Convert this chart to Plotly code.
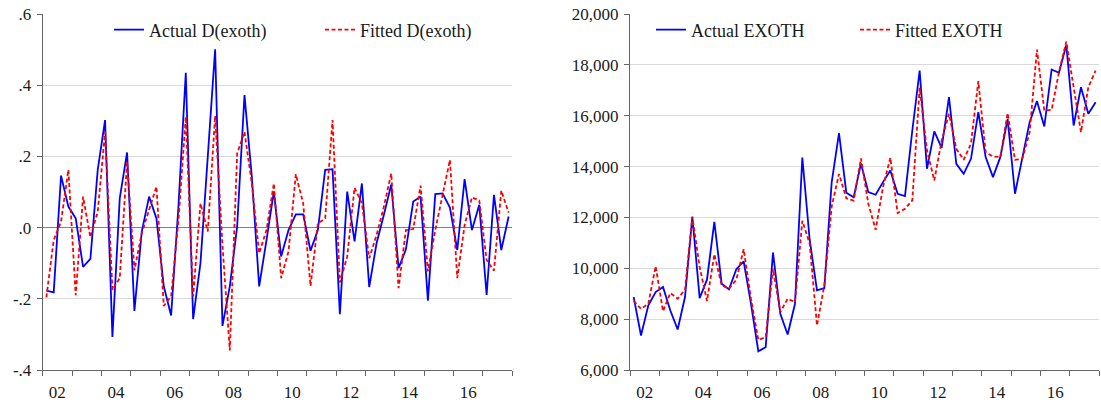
import plotly.graph_objects as go

# ---- data (quarterly, 2002Q1 - 2017Q4) ----
years = list(range(2002, 2018))
quarters = [1, 2, 3, 4]

actual_d = [-0.177, -0.182, 0.146, 0.059, 0.026, -0.110, -0.088, 0.162,
            0.302, -0.307, 0.082, 0.211, -0.234, -0.011, 0.087, 0.026,
            -0.165, -0.247, 0.060, 0.435, -0.257, -0.100, 0.200, 0.501,
            -0.276, -0.165, 0.003, 0.372, 0.143, -0.165, -0.035, 0.101,
            -0.081, -0.007, 0.037, 0.037, -0.065, -0.007, 0.162, 0.164,
            -0.243, 0.101, -0.039, 0.124, -0.167, -0.044, 0.036, 0.121,
            -0.114, -0.061, 0.073, 0.087, -0.205, 0.094, 0.096, 0.056,
            -0.063, 0.136, -0.007, 0.064, -0.189, 0.092, -0.063, 0.031]

fitted_d = [-0.196, -0.035, 0.017, 0.162, -0.190, 0.087, -0.027, 0.045,
            0.269, -0.175, -0.142, 0.185, -0.120, -0.016, 0.050, 0.115,
            -0.220, -0.193, 0.020, 0.311, -0.193, 0.068, -0.011, 0.314,
            -0.050, -0.345, 0.208, 0.269, 0.124, -0.072, -0.007, 0.124,
            -0.142, -0.067, 0.150, 0.068, -0.164, 0.012, 0.026, 0.302,
            -0.154, -0.081, 0.112, 0.068, -0.086, -0.021, 0.059, 0.152,
            -0.170, -0.007, -0.004, 0.118, -0.123, -0.007, 0.092, 0.190,
            -0.142, 0.007, 0.085, 0.076, -0.091, -0.121, 0.104, 0.042]

actual_exoth = [8868, 7355, 8540, 9066, 9263, 8342, 7592, 8868,
                12027, 8829, 9553, 11830, 9395, 9171, 9961, 10277,
                8605, 6737, 6895, 10619, 8211, 7395, 8605, 14356,
                11132, 9132, 9224, 13369, 15317, 12975, 12790, 14120,
                12996, 12891, 13389, 13847, 12930, 12839, 15419, 17777,
                13913, 15380, 14738, 16729, 14109, 13716, 14306, 16140,
                14371, 13585, 14371, 15878, 12930, 14306, 15747, 16572,
                15576, 17817, 17686, 18786, 15616, 17122, 16074, 16533]

fitted_exoth = [8711, 8408, 8605, 10079, 8316, 9026, 8803, 9158,
                12027, 10053, 8711, 10553, 9329, 9198, 9553, 10750,
                8803, 7184, 7289, 9987, 8276, 8803, 8671, 11869,
                10974, 7750, 9329, 12422, 13711, 12751, 12659, 14318,
                12537, 11516, 13192, 14345, 12170, 12341, 12668, 17096,
                14633, 13454, 15026, 16074, 14699, 14266, 14895, 17358,
                14568, 14398, 14371, 16100, 14266, 14306, 15354, 18603,
                16205, 16231, 17712, 18917, 17122, 15354, 17122, 17777]

left_ticks = [-0.4, -0.2, 0.0, 0.2, 0.4, 0.6]
left_ticktext = ["-.4", "-.2", ".0", ".2", ".4", ".6"]
right_ticks = [6000, 8000, 10000, 12000, 14000, 16000, 18000, 20000]
year_labels = ["02", "04", "06", "08", "10", "12", "14", "16"]

# quarterly positions (centre of each quarter)
x = [y + (q - 0.5) / 4 for y in years for q in quarters]

W, H = 1101, 403
ML, MR, MT, MB = 0, 0, 14, 33
PW = W - ML - MR
PH = H - MT - MB

BLUE = "#0000ff"
RED = "#ff0000"
FONT = "Liberation Serif"
AXC = "#666666"
GRIDC = "#d9d9d9"
TXT = "#1a1a1a"
LW = 1.8

fig = go.Figure()

fig.add_trace(go.Scatter(x=x, y=actual_d, mode="lines", name="Actual D(exoth)",
                         line=dict(color=BLUE, width=LW), xaxis="x", yaxis="y",
                         legend="legend", showlegend=True))
fig.add_trace(go.Scatter(x=x, y=fitted_d, mode="lines", name="Fitted D(exoth)",
                         line=dict(color=RED, width=LW, dash="4px,2.5px"),
                         xaxis="x", yaxis="y", legend="legend2", showlegend=True))
fig.add_trace(go.Scatter(x=x, y=actual_exoth, mode="lines", name="Actual EXOTH",
                         line=dict(color=BLUE, width=LW), xaxis="x2", yaxis="y2",
                         legend="legend3", showlegend=True))
fig.add_trace(go.Scatter(x=x, y=fitted_exoth, mode="lines", name="Fitted EXOTH",
                         line=dict(color=RED, width=LW, dash="4px,2.5px"),
                         xaxis="x2", yaxis="y2", legend="legend4", showlegend=True))

def px_x(p):
    return (p - ML) / PW

def px_y(p):
    return (H - MB - p) / PH

xmaj = [int(l) + 2000 + 0.5 for l in year_labels]
xmin = list(range(years[0], years[-1] + 2))

def xaxis_cfg(domain, anchor):
    return dict(domain=domain, anchor=anchor, range=[years[0], years[-1] + 1],
                tickmode="array", tickvals=xmaj, ticktext=year_labels,
                ticks="", showgrid=False, zeroline=False,
                showline=True, linecolor=AXC, linewidth=1,
                ticklabelstandoff=7,
                tickfont=dict(family=FONT, size=17, color=TXT),
                minor=dict(tickmode="array", tickvals=xmin, ticks="outside",
                           ticklen=5, tickcolor=AXC, tickwidth=1, showgrid=False))

def yaxis_cfg(anchor, rng, tv, tt, gridv, zl):
    return dict(anchor=anchor, range=rng, tickmode="array", tickvals=tv,
                ticktext=tt, ticks="outside", ticklen=5, tickcolor=AXC,
                showgrid=False, zeroline=zl, zerolinecolor="#808080",
                zerolinewidth=1.2, showline=True, linecolor=AXC, linewidth=1,
                ticklabelstandoff=2,
                tickfont=dict(family=FONT, size=17, color=TXT),
                minor=dict(tickmode="array", tickvals=gridv, ticks="",
                           showgrid=True, gridcolor=GRIDC, gridwidth=1))

fig.update_layout(
    width=W, height=H,
    margin=dict(l=ML, r=MR, t=MT, b=MB),
    paper_bgcolor="white", plot_bgcolor="white",
    showlegend=True,
    font=dict(family=FONT, size=18, color=TXT),
    xaxis=xaxis_cfg([px_x(42.7), px_x(512.3)], "y"),
    yaxis=yaxis_cfg("x", [-0.4, 0.6], left_ticks, left_ticktext,
                    [-0.2, 0.2, 0.4], True),
    xaxis2=xaxis_cfg([px_x(630), px_x(1099.3)], "y2"),
    yaxis2=yaxis_cfg("x2", [6000, 20000], right_ticks,
                     [f"{v:,}" for v in right_ticks],
                     [8000, 10000, 12000, 14000, 16000, 18000], False),
)

leg_common = dict(orientation="h", yanchor="middle", xanchor="left",
                  bgcolor="rgba(0,0,0,0)", borderwidth=0,
                  font=dict(family=FONT, size=18, color=TXT))
fig.update_layout(
    legend=dict(x=px_x(109), y=px_y(30), **leg_common),
    legend2=dict(x=px_x(320), y=px_y(30), **leg_common),
    legend3=dict(x=px_x(651), y=px_y(30), **leg_common),
    legend4=dict(x=px_x(855), y=px_y(30), **leg_common),
)

fig.write_html("out.html")
